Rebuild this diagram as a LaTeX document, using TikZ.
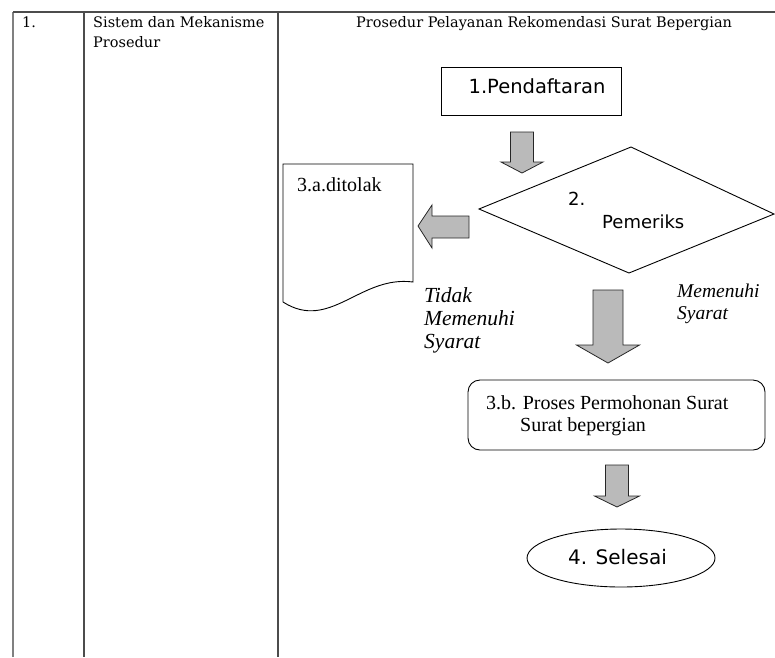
\documentclass[tikz,border=0pt]{standalone}
\usepackage{fontspec}
\setmainfont{Liberation Serif}
\newfontfamily\hdrfont{DejaVu Serif}
\newfontfamily\dvsans{DejaVu Sans}
\usetikzlibrary{shapes.geometric}
\newcommand{\bkdown}[6]{%
  \draw[barrow] ({#1-#3},#2) -- ({#1+#3},#2) -- ({#1+#3},#4) -- ({#1+#5},#4)
    -- (#1,#6) -- ({#1-#5},#4) -- ({#1-#3},#4) -- cycle;}
\begin{document}
\begin{tikzpicture}[x=1pt,y=-1pt,
  tbl/.style={draw=black!70, line width=1.1pt},
  shp/.style={draw=black, line width=0.9pt},
  barrow/.style={draw=black!85, line width=0.8pt, fill=black!27},
  hdr/.style={font=\hdrfont\fontsize{14.5}{20}\selectfont, anchor=base west, inner sep=0pt},
  sansl/.style={font=\dvsans\fontsize{19.5}{24}\selectfont, inner sep=0pt},
  serl/.style={font=\fontsize{20}{24}\selectfont, inner sep=0pt, anchor=base west},
  itl/.style={font=\itshape\fontsize{21.5}{24}\selectfont, inner sep=0pt, anchor=base west}
]
\useasboundingbox (0,0) rectangle (775,657);
% table
\draw[tbl, draw=black!50, line width=1.4pt] (13,657) -- (13,12);
\draw[tbl] (13,12) -- (775,12);
\draw[tbl] (84,12) -- (84,657);
\draw[tbl] (278,12) -- (278,657);
\node[hdr] (no) at (22,27) {1.};
\node[hdr] (sis1) at (93,27) {Sistem dan Mekanisme};
\node[hdr] (sis2) at (93,47) {Prosedur};
\node[hdr] (title) at (356,27) {Prosedur Pelayanan Rekomendasi Surat Bepergian};
% 1. Pendaftaran
\node[shp, minimum width=180pt, minimum height=48pt, inner sep=0pt] (daftar) at (531,91) {};
\node[sansl] (daftart) at (537,86) {1.Pendaftaran};
\bkdown{522}{132}{11.5}{162}{21}{173}
% 2. diamond
\draw[shp] (479,209) -- (631,147) -- (774,214) -- (629,273) -- cycle;
\coordinate (periksa) at (627,210);
\node[sansl, anchor=west, font=\dvsans\fontsize{18}{22}\selectfont] (p2) at (568,199) {2.};
\node[sansl, anchor=west, font=\dvsans\fontsize{18}{22}\selectfont] (pem) at (602,222) {Pemeriks};
% left arrow
\draw[barrow] (469,216) -- (432,216) -- (432,205) -- (418,226) -- (432,248) -- (432,238) -- (469,238) -- cycle;
% 3.a document
\draw[shp] (283,302) -- (283,164) -- (413,164) -- (413,282) .. controls (360,275) and (330,332) .. (283,302);
\node[serl] (tolak) at (297,191) {3.a.ditolak};
% labels
\node[itl] (t1) at (424,302) {Tidak};
\node[itl] (t2) at (424,325) {Memenuhi};
\node[itl] (t3) at (424,348) {Syarat};
\node[itl, font=\itshape\fontsize{19.5}{23}\selectfont] (m1) at (677,297) {Memenuhi};
\node[itl, font=\itshape\fontsize{19.5}{23}\selectfont] (m2) at (677,319) {Syarat};
\bkdown{608}{290}{15}{345}{31.5}{363}
% 3.b
\node[shp, rounded corners=12pt, minimum width=297pt, minimum height=70pt, inner sep=0pt] (proses) at (616.5,415) {};
\node[serl] (pr1) at (486,409) {3.b. Proses Permohonan Surat};
\node[serl] (pr2) at (520,431) {Surat bepergian};
\bkdown{617}{465}{11.5}{496}{22.5}{507}
% 4. Selesai
\node[shp, ellipse, minimum width=188pt, minimum height=58pt, inner sep=0pt] (selesai) at (621,558) {};
\node[sansl, font=\dvsans\fontsize{20}{24}\selectfont] (selt) at (617.5,557) {4. Selesai};
\end{tikzpicture}
\end{document}
